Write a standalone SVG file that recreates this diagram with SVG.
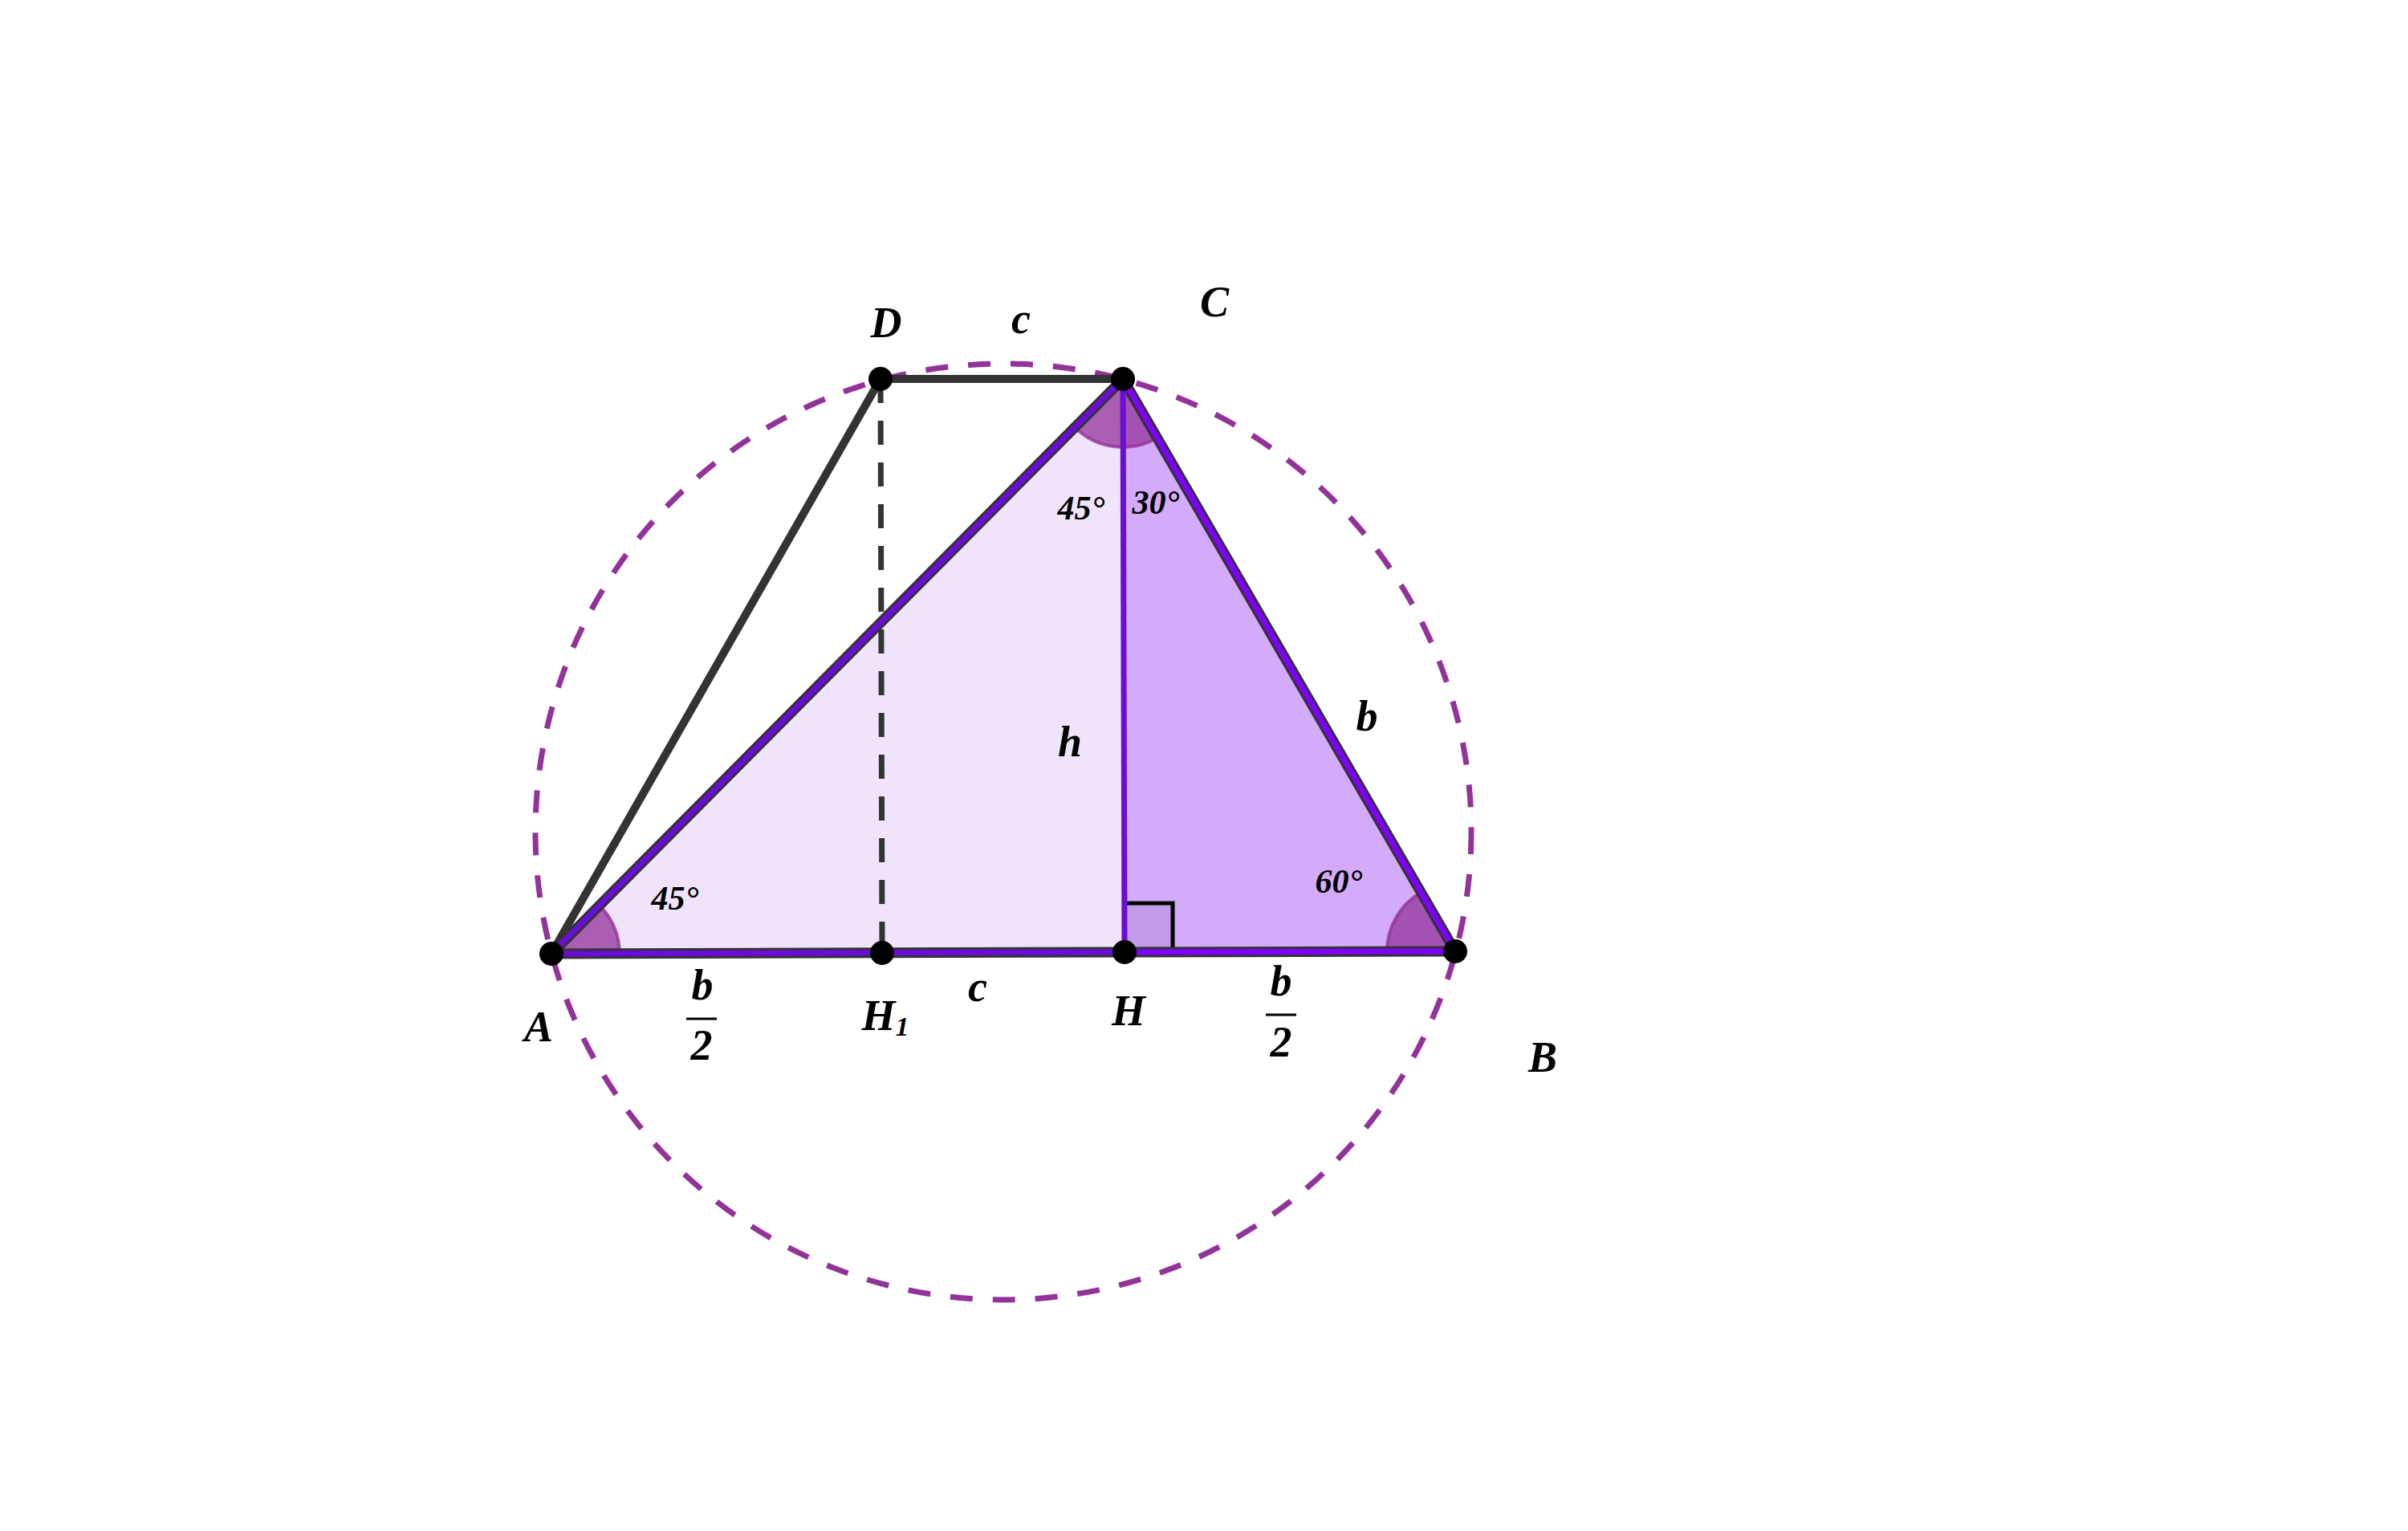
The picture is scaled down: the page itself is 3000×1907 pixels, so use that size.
<svg xmlns="http://www.w3.org/2000/svg" width="3000" height="1907" viewBox="0 0 3000 1907">
<style>
.lbl{font-family:"Liberation Serif","DejaVu Serif",serif;font-style:italic;font-weight:bold;fill:#000;text-anchor:middle}
.big{font-size:54px}
.ang{font-size:42px}
.sub{font-size:34px}
.dark{stroke:#333333;stroke-linecap:round;fill:none}
.sector{fill:#933399;fill-opacity:0.75;stroke:#933399;stroke-opacity:0.8;stroke-width:4}
.pt{fill:#000}
</style>
<rect width="3000" height="1907" fill="#ffffff"/>
<g id="regions">
<polygon id="triAHC" points="687,1188 1401,1186 1399,472" fill="#F0E4FC"/>
<polygon id="triHBC" points="1401,1186 1813,1185 1399,472" fill="#D4ABFA"/>
<g id="rightangle">
<rect x="1401" y="1125" width="60" height="61" fill="#C09AE6"/>
<polyline points="1401,1125 1461,1125 1461,1186" fill="none" stroke="#000" stroke-width="5"/>
</g>
<path id="angleA" class="sector" d="M687,1188 L772,1188 A85,85 0 0 0 747,1128 Z"/>
<path id="angleC" class="sector" d="M1399,472 L1339.1,532.3 A85,85 0 0 0 1441.7,545.5 Z"/>
<path id="angleB" class="sector" d="M1813,1185 L1728,1185.2 A85,85 0 0 1 1770.3,1111.5 Z"/>
</g>
<g id="connectors">
<circle id="circumcircle" cx="1250" cy="1036" r="583" fill="none" stroke="#93339A" stroke-width="7" stroke-dasharray="28 25"/>
<line id="DH1" x1="1097" y1="472" x2="1099" y2="1187" stroke="#333333" stroke-width="7" stroke-dasharray="30 22"/>
<line id="AD" class="dark" x1="687" y1="1188" x2="1097" y2="472" stroke-width="10"/>
<line id="DC" class="dark" x1="1097" y1="472" x2="1399" y2="472" stroke-width="10"/>
<g id="AC">
<line x1="687" y1="1188" x2="1399" y2="472" stroke="#333333" stroke-width="13"/>
<line x1="687" y1="1188" x2="1399" y2="472" stroke="#6A0DD6" stroke-width="7"/>
</g>
<g id="CB">
<line x1="1399" y1="472" x2="1813" y2="1185" stroke="#333333" stroke-width="13"/>
<line x1="1399" y1="472" x2="1813" y2="1185" stroke="#7F00FF" stroke-width="7"/>
</g>
<g id="AH">
<line x1="687" y1="1188" x2="1401" y2="1186" stroke="#333333" stroke-width="13"/>
<line x1="687" y1="1188" x2="1401" y2="1186" stroke="#6A0DD6" stroke-width="7"/>
</g>
<g id="HB">
<line x1="1401" y1="1186" x2="1813" y2="1185" stroke="#333333" stroke-width="13"/>
<line x1="1401" y1="1186" x2="1813" y2="1185" stroke="#7F00FF" stroke-width="7"/>
</g>
<line id="CH" x1="1399" y1="472" x2="1401" y2="1186" stroke="#6A0DD6" stroke-width="7"/>
</g>
<g id="A"><circle class="pt" cx="687" cy="1188" r="15"/><text class="lbl big" x="671" y="1297">A</text></g>
<g id="B"><circle class="pt" cx="1813" cy="1185" r="15"/><text class="lbl big" x="1922" y="1335">B</text></g>
<g id="C"><circle class="pt" cx="1399" cy="472" r="15"/><text class="lbl big" x="1513" y="394">C</text></g>
<g id="D"><circle class="pt" cx="1097" cy="472" r="15"/><text class="lbl big" x="1104" y="420">D</text></g>
<g id="H1"><circle class="pt" cx="1099" cy="1187" r="15"/><text class="lbl big" x="1103" y="1283">H<tspan class="sub" dy="7">1</tspan></text></g>
<g id="H"><circle class="pt" cx="1401" cy="1186" r="15"/><text class="lbl big" x="1406" y="1277">H</text></g>
<g id="labels">
<text class="lbl big" x="1272" y="415">c</text>
<text class="lbl big" x="1218" y="1247">c</text>
<text class="lbl big" x="1333" y="942">h</text>
<text class="lbl big" x="1703" y="910">b</text>
<text class="lbl ang" x="1347" y="647">45°</text>
<text class="lbl ang" x="1440" y="640">30°</text>
<text class="lbl ang" x="1668" y="1112">60°</text>
<text class="lbl ang" x="841" y="1133">45°</text>
<g id="frac-left">
<text class="lbl big" x="875" y="1245">b</text>
<line x1="855" y1="1269" x2="893" y2="1269" stroke="#000" stroke-width="3"/>
<text class="lbl big" x="874" y="1320">2</text>
</g>
<g id="frac-right">
<text class="lbl big" x="1596" y="1240">b</text>
<line x1="1577" y1="1264" x2="1615" y2="1264" stroke="#000" stroke-width="3"/>
<text class="lbl big" x="1596" y="1316">2</text>
</g>
</g>
</svg>
